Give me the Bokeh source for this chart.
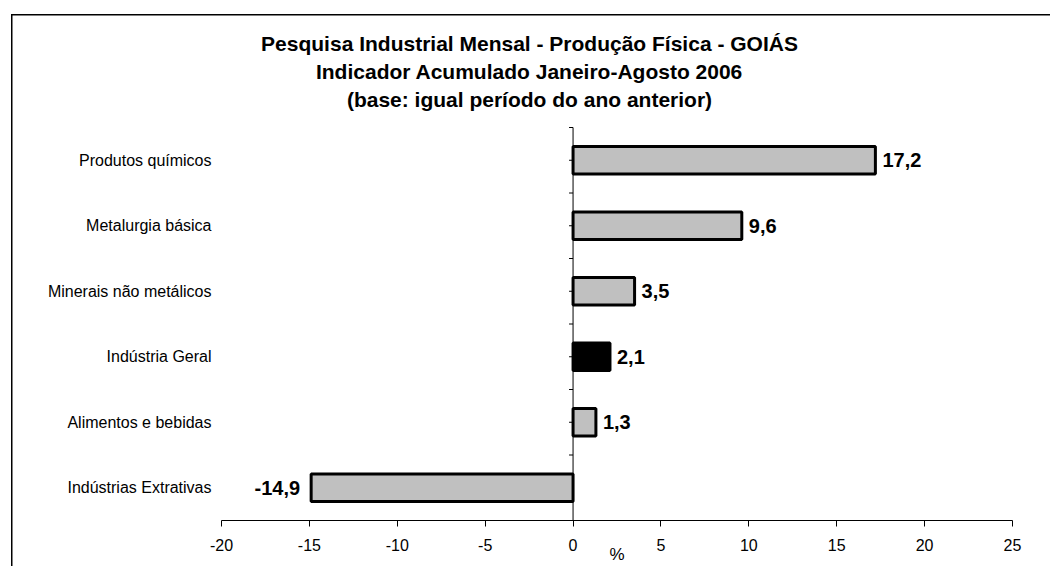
from bokeh.plotting import figure
from bokeh.models import ColumnDataSource, Range1d, LinearAxis, FixedTicker
from bokeh.embed import file_html
from bokeh.resources import INLINE
from bokeh.core.properties import value

# Categories, top to bottom, with their accumulated change (%)
categories = ["Produtos químicos", "Metalurgia básica", "Minerais não metálicos",
              "Indústria Geral", "Alimentos e bebidas", "Indústrias Extrativas"]
values = [17.2, 9.6, 3.5, 2.1, 1.3, -14.9]
x_ticks = [-20, -15, -10, -5, 0, 5, 10, 15, 20, 25]
unit_label = "%"

title_lines = ["Pesquisa Industrial Mensal - Produção Física - GOIÁS",
               "Indicador Acumulado Janeiro-Agosto 2006",
               "(base: igual período do ano anterior)"]

FONT = "Liberation Sans"
n = len(categories)
ypos = [n - i - 0.5 for i in range(n)]
colors = ["#000000" if c == "Indústria Geral" else "#C0C0C0" for c in categories]
labels = [("%.1f" % v).replace(".", ",") for v in values]
align = ["left" if v >= 0 else "right" for v in values]
xoff = [7 if v >= 0 else -11 for v in values]

src = ColumnDataSource(dict(y=ypos, v=values, color=colors, label=labels,
                            align=align, xoff=xoff, cat=categories))

# canvas and value-area geometry (pixels)
W, H = 1050, 566
AX_L, AX_R, AX_T, AX_B = 221, 1012, 127, 520
sx = (AX_R - AX_L) / (x_ticks[-1] - x_ticks[0])
sy = (AX_B - AX_T) / n

def dx(px):
    return x_ticks[0] + (px - AX_L) / sx

def dy(py):
    return n + (AX_T - py) / sy

# page frame (left and top edges) drawn as CSS backgrounds behind the canvas
frame_css = {
    "background": ("linear-gradient(#000,#000) no-repeat 11px 14px / 1.5px 560px, "
                   "linear-gradient(#000,#000) no-repeat 11px 14px / 1100px 1.5px, "
                   "#fff"),
}

p = figure(width=W, height=H, output_backend="svg", toolbar_location=None,
           x_range=Range1d(dx(0), dx(W)), y_range=Range1d(0, dy(0)),
           min_border_left=0, min_border_right=0, min_border_top=0,
           min_border_bottom=H - AX_B, x_axis_location=None, y_axis_location=None,
           styles=frame_css)
p.xgrid.visible = False
p.ygrid.visible = False
p.outline_line_color = None
p.background_fill_color = None
p.border_fill_color = None

# bottom value axis
xa = LinearAxis(ticker=FixedTicker(ticks=x_ticks), bounds=(x_ticks[0], x_ticks[-1]))
xa.major_label_overrides = {t: str(t) for t in x_ticks}
xa.axis_line_color = "black"
xa.axis_line_width = 1
xa.major_tick_line_color = "black"
xa.major_tick_out = 6
xa.major_tick_in = 0
xa.minor_tick_line_color = None
xa.major_label_standoff = 12
xa.major_label_text_font = FONT
xa.major_label_text_font_size = "16px"
xa.major_label_text_color = "black"
p.add_layout(xa, "below")

# unit label, centred under the value scale
mid = (x_ticks[0] + x_ticks[-1]) / 2
ua = LinearAxis(ticker=FixedTicker(ticks=[mid]))
ua.major_label_overrides = {mid: unit_label}
ua.axis_line_color = None
ua.major_tick_line_color = None
ua.major_tick_out = 0
ua.major_tick_in = 0
ua.minor_tick_line_color = None
ua.major_label_standoff = -9
ua.major_label_text_font = FONT
ua.major_label_text_font_size = "17px"
ua.major_label_text_color = "black"
p.add_layout(ua, "below")

# category names
p.text(x=dx(211), y="y", text="cat", source=src, text_align="right",
       text_baseline="middle", text_font=value(FONT), text_font_size="16px",
       text_color="black")

# zero line with its tick marks
p.segment(x0=[0], y0=[0], x1=[0], y1=[n], line_color="black", line_width=1)
tk = [i * 0.5 for i in range(2 * n + 1)]
p.segment(x0=[-4 / sx] * len(tk), y0=tk, x1=[0] * len(tk), y1=tk,
          line_color="black", line_width=1)

# bars
p.hbar(y="y", left=0, right="v", height=0.42, source=src,
       fill_color="color", line_color="black", line_width=3)

# value labels
p.text(x="v", y="y", text="label", source=src, text_align="align",
       x_offset="xoff", text_baseline="middle", text_font=value(FONT),
       text_font_style="bold", text_font_size="20px", text_color="black")

# title block
p.text(x=[dx(529)] * 3, y=[dy(43), dy(71), dy(99)], text=title_lines,
       text_align="center", text_baseline="middle", text_font=value(FONT),
       text_font_style="bold", text_font_size="21px", text_color="black")

open("out.html", "w").write(file_html(p, INLINE))
